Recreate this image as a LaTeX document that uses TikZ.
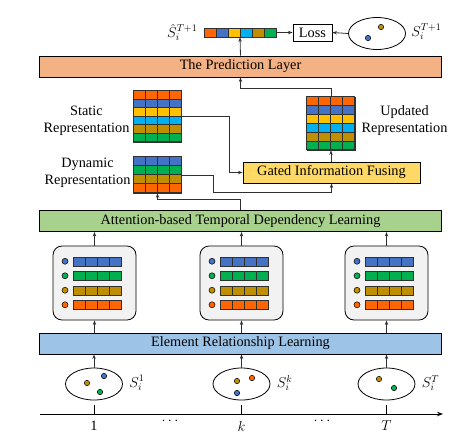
\documentclass[tikz,border=0pt]{standalone}
\usepackage{fontspec}
\setmainfont{Liberation Serif}
\usetikzlibrary{calc,arrows.meta,shapes.geometric}
\definecolor{cOr}{HTML}{FF6600}
\definecolor{cBl}{HTML}{4472C4}
\definecolor{cYe}{HTML}{FFC000}
\definecolor{cCy}{HTML}{00B0F0}
\definecolor{cGo}{HTML}{BF8F00}
\definecolor{cGr}{HTML}{00B050}
\definecolor{fPred}{HTML}{F4B183}
\definecolor{fAtt}{HTML}{A9D18E}
\definecolor{fEle}{HTML}{9DC3E6}
\definecolor{fGate}{HTML}{FFD966}
\definecolor{fBox}{HTML}{F2F2F2}
\definecolor{lineC}{HTML}{303030}
\newcommand{\mycells}[5]{%
  \foreach \cc [count=\rr from 0] in {#5} {
    \foreach \kk in {1,...,#4} {
      \draw[cell, fill=\cc] ($(#1.north west)+({(\kk-1)*#2},{\rr*#3})$) rectangle ++(#2,#3);
    }
  }
}
\newcommand{\myrows}[1]{%
  \foreach \cc/\dy in {cBl/-21.75, cGr/-7.25, cGo/7.25, cOr/21.75} {
    \draw[dotc, fill=\cc] ($(#1)+(-29.5,\dy)$) circle (3pt);
    \foreach \kk in {0,...,3} {
      \draw[cell, fill=\cc] ($(#1)+({-21.5+\kk*12},{\dy-4.5})$) rectangle ++(12,9);
    }
  }
}
\begin{document}
\begin{tikzpicture}[x=1pt,y=-1pt,
  font=\fontsize{14.3}{17}\selectfont,
  conn/.style={draw=lineC, line width=0.8pt},
  arr/.style={conn, -{Stealth[length=4.5pt,width=3.4pt]}},
  layer/.style={draw=black, line width=0.9pt, minimum width=402, minimum height=21, inner sep=0},
  cell/.style={draw=lineC, line width=0.5pt},
  dotc/.style={draw=black, line width=0.5pt},
  matnode/.style={inner sep=0, minimum width=48, draw=lineC, line width=0.6pt},
  rbox/.style={draw=black, line width=0.8pt, fill=fBox, rounded corners=9pt, minimum width=83, minimum height=74, inner sep=0},
  setel/.style={ellipse, draw=black, line width=0.8pt, minimum width=57, minimum height=32, inner sep=0},
  twoline/.style={align=center, inner sep=0},
  axisl/.style={draw=black, line width=0.9pt}
]
\useasboundingbox (0,0) rectangle (465,440);

% top row
\node[inner sep=0, minimum width=72, minimum height=9] (bar) at (240,32.5) {};
\mycells{bar}{12}{9}{6}{cOr}
\foreach \cc [count=\kk from 0] in {cOr,cBl,cYe,cCy,cGo,cGr} {
  \draw[cell, fill=\cc] ($(bar.north west)+(\kk*12,0)$) rectangle ++(12,9);
}
\node[anchor=east] (shat) at ($(bar.west)+(-3,0)$) {$\hat{S}_i^{T+1}$};
\node[draw=black, line width=0.8pt, minimum width=39, minimum height=17, inner sep=0] (loss) at (312.5,32.5) {Loss};
\node[setel] (etop) at (377,33.5) {};
\draw[dotc, fill=cGo] (381,27) circle (2.7pt);
\draw[dotc, fill=cBl] (368,38) circle (2.7pt);
\node[anchor=west] (ltop) at ($(etop.east)+(2,-2)$) {$S_i^{T+1}$};
\draw[arr] (bar.east) -- (loss.west);
\draw[arr] (etop.west) -- (loss.east);

% prediction layer
\node[layer, fill=fPred] (pred) at (240.5,66.5) {The Prediction Layer};
\draw[arr] (pred.north) -- (bar.south);

% static representation
\node[matnode, minimum height=51] (static) at (157.5,116.5) {};
\mycells{static}{12}{8.5}{4}{cOr,cBl,cYe,cCy,cGo,cGr}
\node[twoline] (lstatic) at (86.5,121) {Static\\Representation};

% updated representation
\node[matnode, minimum height=53] (updated) at (331,123.5) {};
\mycells{updated}{12}{8.8333}{4}{cOr,cBl,cYe,cCy,cGo,cGr}
\node[twoline] (lupdated) at (404.5,120.5) {Updated\\Representation};

% dynamic representation
\node[matnode, minimum height=36] (dynamic) at (157.5,175) {};
\mycells{dynamic}{12}{9}{4}{cBl,cGr,cGo,cOr}
\node[twoline] (ldynamic) at (87.5,173) {Dynamic\\Representation};

% gated
\node[draw=black, line width=0.9pt, fill=fGate, minimum width=177, minimum height=21, inner sep=0] (gated) at (331.5,172.5) {Gated Information Fusing};

% attention layer
\node[layer, fill=fAtt] (att) at (240.5,221) {Attention-based Temporal Dependency Learning};

% element layer
\node[layer, fill=fEle] (ele) at (240.5,343.5) {Element Relationship Learning};

% connectors in the middle
\coordinate (sj) at (229,0);
\draw[arr] (static.east) -| (sj |- gated.west) -- (gated.west);
\coordinate (dj) at (213,192);
\draw[arr] (dynamic.east) -| (dj) -| (gated.south);
\draw[arr] (att.north) -- ++(0,-11) -| (dynamic.south);
\draw[arr] (updated.south |- gated.north) -- (updated.south);
\draw[arr] (updated.north) -- ++(0,-8) -| (pred.south);

% rounded boxes
\node[rbox] (r1) at (94.5,283) {};
\node[rbox] (r2) at (241.5,283) {};
\node[rbox] (r3) at (386.5,283) {};
\myrows{r1}
\myrows{r2}
\myrows{r3}
\foreach \b in {r1,r2,r3} {
  \draw[arr] (\b.north) -- (\b.north |- att.south);
  \draw[arr] (\b.south |- ele.north) -- (\b.south);
}

% ellipses
\node[setel] (e1) at (94,384) {};
\node[setel] (e2) at (241.5,384) {};
\node[setel] (e3) at (386.5,384) {};
\draw[dotc, fill=cGo] (87,383) circle (2.7pt);
\draw[dotc, fill=cBl] (104,376) circle (2.7pt);
\draw[dotc, fill=cGr] (100,392) circle (2.7pt);
\draw[dotc, fill=cGo] (237,381) circle (2.7pt);
\draw[dotc, fill=cOr] (252,378) circle (2.7pt);
\draw[dotc, fill=cBl] (237,393) circle (2.7pt);
\draw[dotc, fill=cGo] (379,379) circle (2.7pt);
\draw[dotc, fill=cGr] (394,388) circle (2.7pt);
\node[anchor=west] (l1) at ($(e1.east)+(3,-1)$) {$S_i^1$};
\node[anchor=west] (l2) at ($(e2.east)+(3,-1)$) {$S_i^k$};
\node[anchor=west] (l3) at ($(e3.east)+(3,-1)$) {$S_i^T$};
\foreach \e in {e1,e2,e3} {
  \draw[arr] (\e.north) -- (\e.north |- ele.south);
}

% axis
\coordinate (ax0) at (40,414);
\coordinate (ax1) at (443,414);
\draw[axisl, -{Stealth[length=6pt,width=4.5pt]}] (ax0) -- (ax1);
\foreach \e in {e1,e2,e3} {
  \draw[axisl] ($(\e.south)+(0,5)$) -- (\e.south |- ax0);
}
\node (t1) at (94,426) {1};
\node (t2) at (241.5,426) {$k$};
\node (t3) at (386.5,426) {$T$};
\node (d1) at (170,421) {$\cdots$};
\node (d2) at (322,421) {$\cdots$};
\end{tikzpicture}
\end{document}
